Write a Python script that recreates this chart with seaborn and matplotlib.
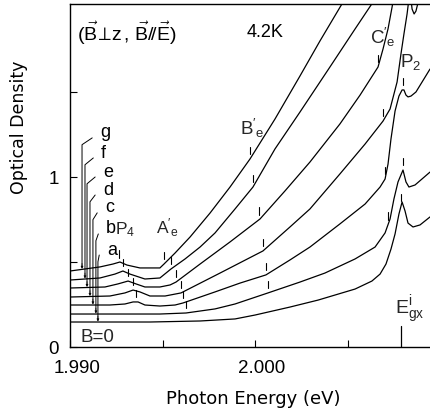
import numpy as np
import pandas as pd
import matplotlib
matplotlib.use("Agg")
import matplotlib.pyplot as plt
import matplotlib.transforms as mtransforms
import seaborn as sns

# Magneto-absorption spectra at 4.2 K, each field offset upward (a = lowest, g = highest)
curve_names = ["a", "b", "c", "d", "e", "f", "g"]

energy_a = [1.9900, 1.99432, 1.99703, 1.99892, 2.0000, 2.00189, 2.00341, 2.00541, 2.00632, 2.00676,
            2.00708, 2.00735, 2.00757, 2.00778, 2.00795, 2.00811, 2.00827, 2.00854, 2.00892, 2.00946]
od_a = [0.147, 0.147, 0.153, 0.165, 0.188, 0.235, 0.276, 0.341, 0.388, 0.429,
        0.488, 0.576, 0.665, 0.782, 0.853, 0.800, 0.729, 0.706, 0.718, 0.765]

energy_b = [1.9900, 1.99486, 1.99627, 1.99784, 1.99892, 2.0007, 2.00243, 2.00378, 2.00541, 2.00649,
            2.00703, 2.0073, 2.00751, 2.00773, 2.0080, 2.00816, 2.00832, 2.00865, 2.00946]
od_b = [0.194, 0.194, 0.200, 0.224, 0.253, 0.318, 0.382, 0.435, 0.518, 0.588,
        0.671, 0.753, 0.871, 0.971, 1.041, 0.971, 0.941, 0.953, 1.029]

energy_c = [1.9900, 1.99216, 1.99297, 1.99341, 1.99368, 1.99405, 1.99486, 1.99568, 1.99611, 1.99784,
            1.99919, 2.00059, 2.00189, 2.00297, 2.00459, 2.00595, 2.00676, 2.00703, 2.00719, 2.00735,
            2.00757, 2.00778, 2.00795, 2.00805, 2.00816, 2.00827, 2.00843, 2.0087, 2.00946]
od_c = [0.247, 0.247, 0.253, 0.265, 0.265, 0.247, 0.241, 0.247, 0.259, 0.324,
        0.376, 0.424, 0.512, 0.588, 0.724, 0.841, 0.941, 0.988, 1.076, 1.224,
        1.388, 1.476, 1.512, 1.512, 1.482, 1.471, 1.476, 1.500, 1.635]

energy_d = [1.9900, 1.99216, 1.99297, 1.99341, 1.99378, 1.99432, 1.99514, 1.9960, 1.99811, 2.00043,
            2.00189, 2.00297, 2.00459, 2.00595, 2.00692, 2.0073, 2.00768, 2.00789, 2.00805, 2.00822,
            2.00832, 2.00838, 2.00843, 2.00849, 2.0086, 2.0087, 2.00886, 2.00919, 2.00946]
od_d = [0.294, 0.300, 0.318, 0.335, 0.324, 0.300, 0.300, 0.318, 0.435, 0.565,
        0.706, 0.812, 1.018, 1.194, 1.329, 1.400, 1.559, 1.724, 1.841, 1.959,
        2.047, 2.135, 2.047, 1.988, 1.959, 1.976, 2.047, 2.165, 2.224]

energy_e = [1.9900, 1.99189, 1.99259, 1.99314, 1.99357, 1.99405, 1.99486, 1.99541, 1.99573, 1.99703,
            1.99865, 2.00027, 2.00162, 2.00297, 2.00459, 2.00568, 2.00665, 2.00692, 2.00719, 2.00741,
            2.00757]
od_e = [0.347, 0.353, 0.371, 0.388, 0.371, 0.353, 0.353, 0.365, 0.382, 0.488,
        0.618, 0.753, 0.918, 1.088, 1.312, 1.482, 1.647, 1.753, 1.871, 2.000,
        2.106]

energy_f = [1.9900, 1.99162, 1.99243, 1.99286, 1.99324, 1.99405, 1.99486, 1.99546, 1.99622, 1.99703,
            1.99784, 1.99892, 1.99989, 2.00108, 2.00243, 2.00405, 2.00541, 2.00649, 2.00703]
od_f = [0.394, 0.406, 0.429, 0.447, 0.429, 0.400, 0.406, 0.459, 0.518, 0.588,
        0.671, 0.812, 0.941, 1.165, 1.382, 1.647, 1.871, 2.047, 2.135]

energy_g = [1.9900, 1.99162, 1.99232, 1.9927, 1.99308, 1.99378, 1.99486, 1.99508, 1.99568, 1.99649,
            1.99757, 1.99865, 1.99973, 2.00108, 2.00243, 2.00351, 2.0047, 2.00514]
od_g = [0.447, 0.471, 0.488, 0.500, 0.482, 0.465, 0.465, 0.488, 0.553, 0.647,
        0.788, 0.941, 1.106, 1.341, 1.594, 1.800, 2.018, 2.106]

energies = [energy_a, energy_b, energy_c, energy_d, energy_e, energy_f, energy_g]
ods = [od_a, od_b, od_c, od_d, od_e, od_f, od_g]

# Structure positions marked on the spectra (eV), per curve
p4_marks = {"c": 1.99357, "d": 1.99341, "e": 1.99314, "f": 1.99286, "g": 1.99265}
ae_marks = {"b": 1.99627, "c": 1.99611, "d": 1.99600, "e": 1.99573, "f": 1.99546, "g": 1.99508}
be_marks = {"b": 2.00070, "c": 2.00059, "d": 2.00043, "e": 2.00022, "f": 1.99989, "g": 1.99973}
ce_marks = {"b": 2.00719, "c": 2.00703, "d": 2.00692, "e": 2.00665}
p2_marks = {"a": 2.00789, "b": 2.00800, "c": 2.00800}
egx_energy = 2.0079

x_ticks = [1.990, 2.000]
x_ticklabels = ["1.990", "2.000"]
x_minor = [1.995, 2.005]
y_ticks = [0, 1]
y_ticklabels = ["0", "1"]
y_minor = [0.5, 1.5]

rows = []
for name, en, od in zip(curve_names, energies, ods):
    for e_val, d_val in zip(en, od):
        rows.append({"field": name, "energy": e_val, "od": d_val})
df = pd.DataFrame(rows)

sns.set_theme(style="white")
plt.rcParams["font.family"] = ["Liberation Sans", "DejaVu Sans"]
plt.rcParams["mathtext.fontset"] = "custom"
plt.rcParams["mathtext.rm"] = "Liberation Sans"
plt.rcParams["mathtext.it"] = "Liberation Sans:italic"
plt.rcParams["mathtext.bf"] = "Liberation Sans:bold"

fig = plt.figure(figsize=(4.30, 4.14), dpi=100)
ax = fig.add_axes([70 / 430, 66 / 414, 360 / 430, 343 / 414])

sns.lineplot(data=df, x="energy", y="od", units="field", estimator=None, sort=False,
             color="black", lw=0.9, ax=ax, legend=False)

ax.set_xlim(1.990, 2.009459)
ax.set_ylim(0, 2.0176)

# short marks above each spectral structure
curve_lookup = {n: (np.array(e), np.array(o)) for n, e, o in zip(curve_names, energies, ods)}
gap, length = 0.028, 0.045
for marks in (p4_marks, ae_marks, be_marks, ce_marks, p2_marks):
    for name, e_val in marks.items():
        en, od = curve_lookup[name]
        base = np.interp(e_val, en, od)
        ax.plot([e_val, e_val], [base + gap, base + gap + length], color="black", lw=0.8)

# exciton gap marker on the energy axis
ax.plot([egx_energy, egx_energy], [0, 0.125], color="black", lw=0.9)

# leaders from the field labels down to the start of each spectrum
letter_pos = {"g": (1.99162, 1.265), "f": (1.99168, 1.147), "e": (1.99178, 1.035),
              "d": (1.99178, 0.929), "c": (1.99189, 0.824), "b": (1.99195, 0.700),
              "a": (1.99200, 0.576)}
leader_x = {"g": 1.99065, "f": 1.99081, "e": 1.99092, "d": 1.99108, "c": 1.99124,
            "b": 1.99140, "a": 1.99151}
for name in curve_names:
    lx, ly = letter_pos[name]
    vx = leader_x[name]
    en, od = curve_lookup[name]
    end = np.interp(vx, en, od)
    ax.plot([lx - 0.00042, vx, vx], [ly - 0.035, ly - 0.075, end + 0.02], color="black", lw=0.7)
    ax.annotate("", xy=(vx, end + 0.003), xytext=(vx, end + 0.035),
                arrowprops=dict(arrowstyle="-|>", lw=0.5, color="black", mutation_scale=3.5,
                                shrinkA=0, shrinkB=0))
    ax.text(lx, ly, name, fontsize=13, ha="left", va="center", color="black")

ax.text(1.9904, 1.853,
        r"$(\vec{\mathrm{B}}\!\perp\!\mathrm{z}\,,\,\vec{\mathrm{B}}/\!/\vec{\mathrm{E}})$",
        fontsize=14, ha="left", va="center", color="black")
ax.text(2.00054, 1.853, "4.2K", fontsize=13, ha="center", va="center", color="black")
ax.text(1.99984, 1.294, r"$\mathrm{B}'_{\mathrm{e}}$", fontsize=13.5, ha="center", va="center")
ax.text(1.99524, 0.706, r"$\mathrm{A}'_{\mathrm{e}}$", fontsize=12.5, ha="center", va="center")
ax.text(2.00692, 1.829, r"$\mathrm{C}'_{\mathrm{e}}$", fontsize=13.5, ha="center", va="center")
ax.text(2.00843, 1.682, r"$\mathrm{P}_{2}$", fontsize=13.5, ha="center", va="center")
ax.text(1.99297, 0.694, r"$\mathrm{P}_{4}$", fontsize=12.5, ha="center", va="center")
ax.text(2.00838, 0.224, r"$\mathrm{E}^{\mathrm{i}}_{\mathrm{gx}}$", fontsize=14, ha="center", va="center")
ax.text(1.99146, 0.059, "B=0", fontsize=13.5, ha="center", va="center")

ax.set_xticks(x_ticks)
ax.set_xticklabels(x_ticklabels)
ax.set_xticks(x_minor, minor=True)
ax.set_yticks(y_ticks)
ax.set_yticklabels(y_ticklabels)
ax.set_yticks(y_minor, minor=True)
ax.tick_params(which="both", direction="in", length=5, width=0.8, color="black",
               bottom=True, left=True, top=False, right=False)
ax.tick_params(axis="x", labelsize=13.5, pad=9, labelcolor="black")
ax.tick_params(axis="y", labelsize=13.5, pad=8, labelcolor="black")
shift = mtransforms.ScaledTranslation(7 / 100, 0, fig.dpi_scale_trans)
for lbl in ax.get_xticklabels():
    lbl.set_transform(lbl.get_transform() + shift)

ax.set_xlabel("Photon Energy (eV)", fontsize=13, family="DejaVu Sans", color="black")
ax.set_ylabel("Optical Density", fontsize=12.5, family="DejaVu Sans", color="black")
ax.xaxis.set_label_coords(0.508, -0.149)
ax.xaxis.label.set_va("center")
ax.yaxis.set_label_coords(-0.142, 0.644)
ax.yaxis.label.set_va("center")

for side in ("left", "bottom", "top"):
    ax.spines[side].set_visible(True)
    ax.spines[side].set_color("black")
    ax.spines[side].set_linewidth(1.0)
ax.spines["right"].set_visible(False)
ax.set_facecolor("white")
fig.patch.set_facecolor("white")

fig.savefig("out.png", dpi=100)
